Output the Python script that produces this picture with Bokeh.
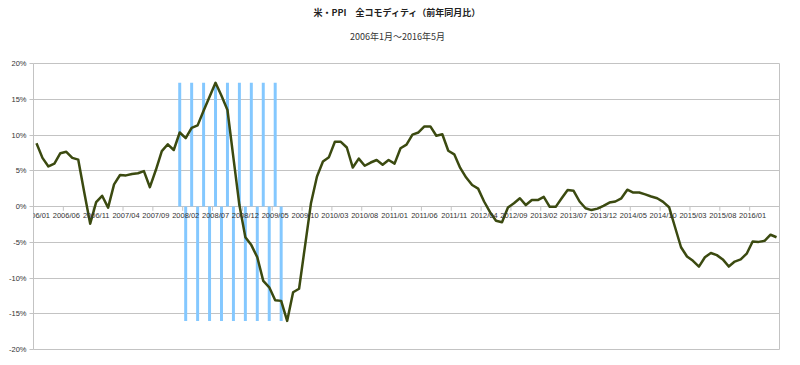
from bokeh.plotting import figure
from bokeh.models import (Range1d, FixedTicker, PrintfTickFormatter,
                          ColumnDataSource, Label, LinearAxis)
from bokeh.embed import file_html
from bokeh.resources import INLINE

# ---- data -------------------------------------------------------------
start_year = 2006
n_months = 125  # 2006/01 .. 2016/05
months = [f"{start_year + m // 12}/{m % 12 + 1:02d}" for m in range(n_months)]

ppi_yoy = [
    8.85, 6.8, 5.6, 6.0, 7.45, 7.65, 6.8, 6.55, 2.0, -2.4, 0.6, 1.5,          # 2006
    -0.15, 3.1, 4.4, 4.35, 4.55, 4.65, 4.95, 2.7, 5.1, 7.75, 8.7, 7.9,        # 2007
    10.35, 9.55, 11.0, 11.35, 13.4, 15.35, 17.3, 15.5, 13.5, 6.8, 0.2, -4.3,  # 2008
    -5.4, -7.1, -10.4, -11.3, -13.1, -13.2, -16.0, -12.0, -11.5, -5.5, 0.5, 4.2,  # 2009
    6.3, 6.9, 9.05, 9.05, 8.25, 5.45, 6.7, 5.7, 6.15, 6.5, 5.85, 6.5,         # 2010
    6.0, 8.15, 8.65, 10.05, 10.35, 11.2, 11.2, 9.9, 10.1, 7.8, 7.3, 5.4,      # 2011
    4.05, 3.0, 2.5, 0.7, -0.8, -2.0, -2.2, -0.15, 0.45, 1.15, 0.2, 0.9,       # 2012
    0.9, 1.35, -0.05, -0.05, 1.15, 2.3, 2.2, 0.7, -0.25, -0.5, -0.3, 0.1,     # 2013
    0.55, 0.7, 1.15, 2.35, 1.95, 1.95, 1.7, 1.4, 1.15, 0.65, -0.1, -2.9,      # 2014
    -5.7, -7.0, -7.6, -8.4, -7.1, -6.5, -6.8, -7.4, -8.4, -7.7, -7.4, -6.6,   # 2015
    -4.9, -4.95, -4.8, -3.95, -4.3,                                           # 2016
]

band_months = ["2008/01", "2008/02", "2008/03", "2008/04", "2008/05", "2008/06",
               "2008/07", "2008/08", "2008/09", "2008/10", "2008/11", "2008/12",
               "2009/01", "2009/02", "2009/03", "2009/04", "2009/05", "2009/06"]
band_values = [17.3, -16.0, 17.3, -16.0, 17.3, -16.0, 17.3, -16.0, 17.3,
               -16.0, 17.3, -16.0, 17.3, -16.0, 17.3, -16.0, 17.3, -16.0]

y_ticks = [-20, -15, -10, -5, 0, 5, 10, 15, 20]
label_step = 5

title_text = "米・PPI　全コモディティ（前年同月比）"
subtitle_text = "2006年1月～2016年5月"
title_x = 60.5  # horizontal anchor of the titles, in month units

# ---- figure -----------------------------------------------------------
GRID = "#c3c3c3"
TXT = "#333333"
FONT = "Liberation Sans"
CJK = "Noto Sans CJK JP"

idx = list(range(n_months))
line_src = ColumnDataSource(dict(x=idx, y=ppi_yoy))
band_src = ColumnDataSource(dict(x=[months.index(m) for m in band_months], top=band_values))
lab_idx = idx[::label_step]
bounds = [i + 0.5 for i in idx[label_step - 1::label_step]]
tick_src = ColumnDataSource(dict(x=bounds, y0=[0] * len(bounds), y1=[-0.6] * len(bounds)))

p = figure(width=800, height=365, output_backend="svg", toolbar_location=None,
           x_range=Range1d(-0.5, n_months - 0.5), y_range=Range1d(y_ticks[0], y_ticks[-1]),
           x_axis_type=None,
           min_border_left=33, min_border_right=21, min_border_top=63, min_border_bottom=16)
p.background_fill_color = "white"
p.border_fill_color = "white"
p.outline_line_color = GRID

p.vbar(x="x", top="top", bottom=0, width=0.5, source=band_src,
       fill_color="#84c8ff", line_color=None)
p.segment(x0="x", y0="y0", x1="x", y1="y1", source=tick_src,
          line_color=GRID, line_width=1)
p.line(x="x", y="y", source=line_src, line_color="#3b4a10", line_width=2.5,
       line_join="round")

# y axis
p.yaxis.ticker = FixedTicker(ticks=y_ticks)
p.yaxis.formatter = PrintfTickFormatter(format="%d%%")
p.yaxis.axis_line_color = None
p.yaxis.major_tick_line_color = GRID
p.yaxis.major_tick_out = 4
p.yaxis.major_tick_in = 0
p.yaxis.minor_tick_line_color = None
p.yaxis.major_label_standoff = 3
p.yaxis.major_label_text_font = FONT
p.yaxis.major_label_text_font_size = "7.5px"
p.yaxis.major_label_text_color = TXT

p.ygrid.ticker = FixedTicker(ticks=y_ticks)
p.ygrid.grid_line_color = GRID
p.xgrid.grid_line_color = None

# x labels sitting on the zero line (one Label per category label)
for i in lab_idx:
    p.add_layout(Label(x=i, y=0, text=months[i], text_align="center",
                       text_baseline="top", y_offset=-4,
                       text_font=FONT, text_font_size="7.5px", text_color=TXT))


def title_axis(text, size, style, color, standoff):
    return LinearAxis(ticker=FixedTicker(ticks=[title_x]),
                      major_label_overrides={title_x: text},
                      major_label_text_font=CJK, major_label_text_font_size=size,
                      major_label_text_font_style=style, major_label_text_color=color,
                      major_label_standoff=standoff,
                      axis_line_color=None, major_tick_line_color=None,
                      minor_tick_line_color=None, major_tick_in=0, major_tick_out=0)


# subtitle nearest the frame, main title above it
p.add_layout(title_axis(subtitle_text, "9px", "normal", TXT, 21), "above")
p.add_layout(title_axis(title_text, "9px", "bold", "#222222", 8), "above")

open("out.html", "w").write(file_html(p, INLINE))
